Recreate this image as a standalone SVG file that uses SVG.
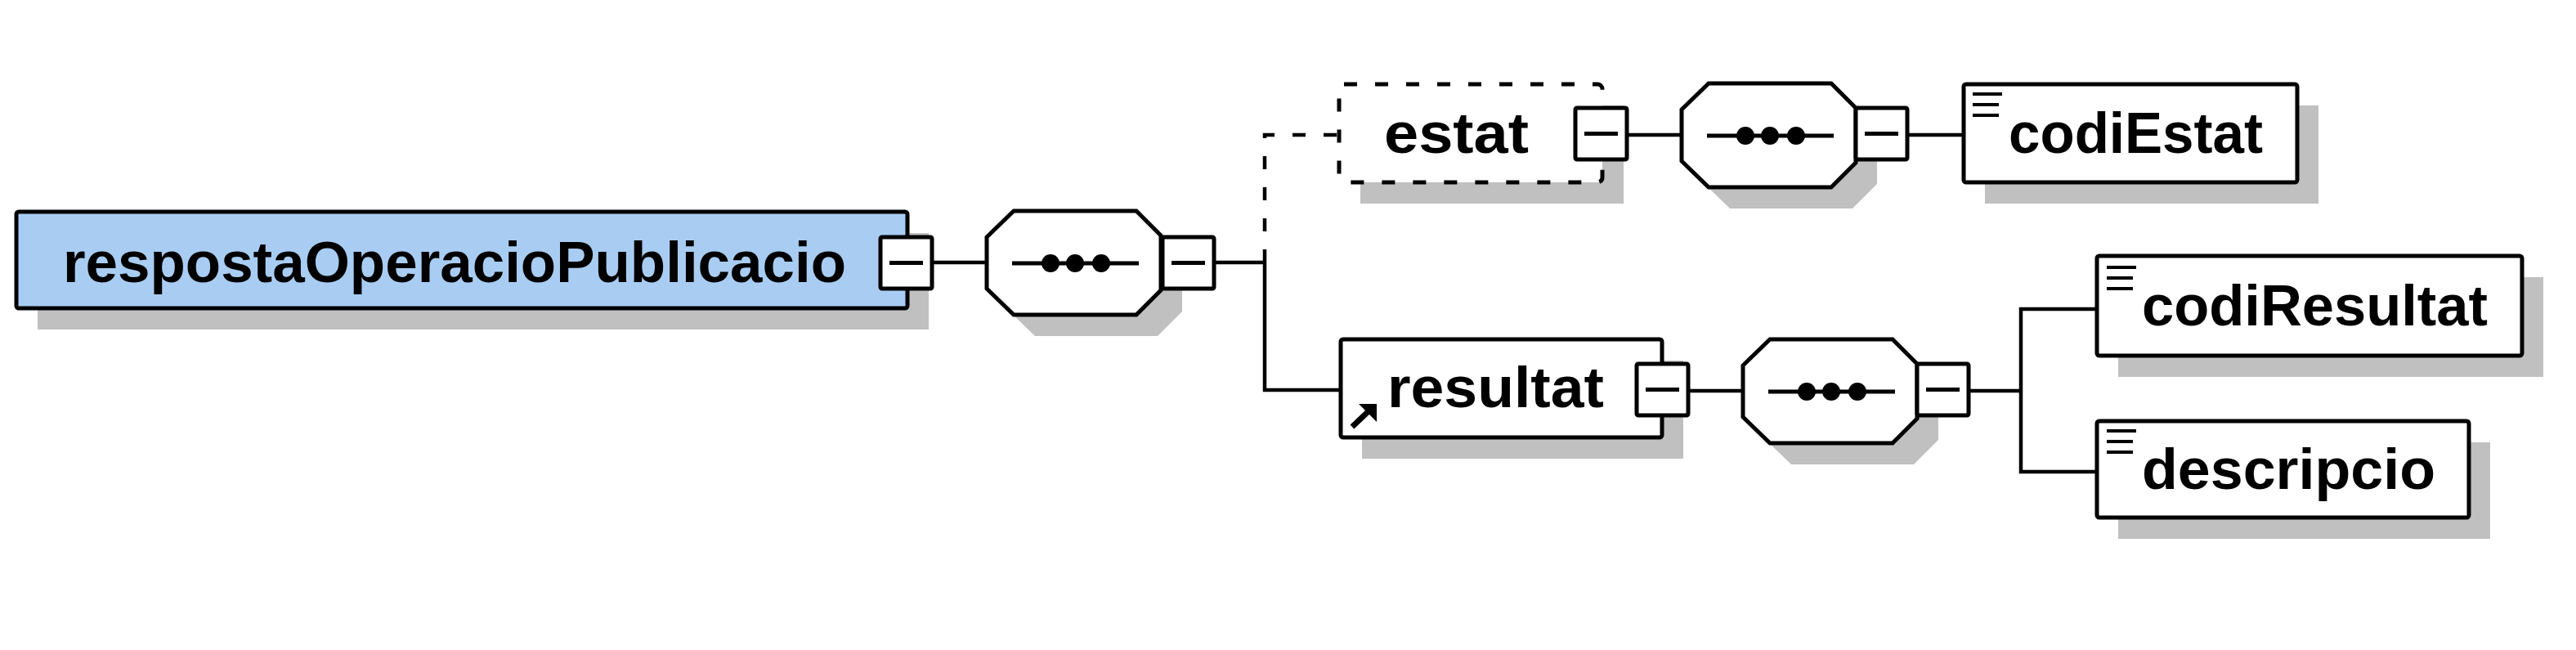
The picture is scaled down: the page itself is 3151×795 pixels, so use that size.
<svg xmlns="http://www.w3.org/2000/svg" xmlns:xlink="http://www.w3.org/1999/xlink" width="3151" height="795" viewBox="0 0 3151 795">
<style>
.box{fill:#fff;stroke:#000;stroke-width:5}
.root{fill:#a9cdf2}
.dashed{stroke-dasharray:16 22}
.shadow{fill:#c0c0c0;stroke:none}
.lbl{font-family:"Liberation Sans",Arial,sans-serif;font-weight:bold;font-size:71px;fill:#000}
.conn{stroke:#000;stroke-width:4.5;fill:none}
.icon{stroke:#000;stroke-width:4;fill:none}
</style>
<defs>
<g id="toggle">
<rect x="0" y="0" width="63" height="63" fill="#fff" stroke="#000" stroke-width="5" rx="2"/>
<line x1="11" y1="31.5" x2="52" y2="31.5" stroke="#000" stroke-width="5"/>
</g>
<path id="octShape" d="M0,32 L33,0 L183,0 L213,30 L213,97 L183,127 L33,127 L0,95 Z"/>
<g id="seq">
<use xlink:href="#octShape" x="26" y="26" class="shadow"/>
<use xlink:href="#octShape" fill="#fff" stroke="#000" stroke-width="5"/>
<line x1="31" y1="64" x2="186" y2="64" stroke="#000" stroke-width="5"/>
<circle cx="78" cy="64" r="11" fill="#000"/>
<circle cx="108" cy="64" r="11" fill="#000"/>
<circle cx="140" cy="64" r="11" fill="#000"/>
</g>
<g id="simpleIcon">
<line x1="0" y1="0" x2="36" y2="0" class="icon"/>
<line x1="0" y1="13" x2="32" y2="13" class="icon"/>
<line x1="0" y1="26" x2="32" y2="26" class="icon"/>
</g>
</defs>
<rect x="0" y="0" width="3151" height="795" fill="#fff"/>

<g id="connectors">
<path class="conn" d="M1140,321 H1207"/>
<path class="conn" d="M1485,321 H1547"/>
<path class="conn" d="M1547,321 V477 H1640"/>
<path class="conn dashed" d="M1547,321 V165 H1638"/>
<path class="conn" d="M1992,165 H2057"/>
<path class="conn" d="M2335,165 H2402"/>
<path class="conn" d="M2067,478 H2132"/>
<path class="conn" d="M2410,478 H2472"/>
<path class="conn" d="M2565,378 H2472 V577 H2565"/>
</g>

<g id="node-respostaOperacioPublicacio">
<rect class="shadow" x="46" y="285" width="1090" height="118"/>
<rect class="box root" x="20" y="259" width="1090" height="118" rx="3"/>
<text class="lbl" x="77" y="345" textLength="958" lengthAdjust="spacingAndGlyphs">respostaOperacioPublicacio</text>
<use xlink:href="#toggle" x="1077" y="290"/>
</g>

<g id="node-sequence1">
<use xlink:href="#seq" x="1207" y="258"/>
<use xlink:href="#toggle" x="1422" y="290"/>
</g>

<g id="node-estat">
<rect class="shadow" x="1664" y="129" width="322" height="120"/>
<rect class="box dashed" x="1638" y="103" width="322" height="120" rx="6"/>
<text class="lbl" x="1693" y="187" textLength="177" lengthAdjust="spacingAndGlyphs">estat</text>
<use xlink:href="#toggle" x="1927" y="132"/>
</g>

<g id="node-sequence2">
<use xlink:href="#seq" x="2057" y="102"/>
<use xlink:href="#toggle" x="2270" y="132"/>
</g>

<g id="node-codiEstat">
<rect class="shadow" x="2428" y="129" width="408" height="120"/>
<rect class="box" x="2402" y="103" width="408" height="120" rx="3"/>
<use xlink:href="#simpleIcon" x="2413" y="115"/>
<text class="lbl" x="2457" y="187" textLength="311" lengthAdjust="spacingAndGlyphs">codiEstat</text>
</g>

<g id="node-resultat">
<rect class="shadow" x="1666" y="441" width="393" height="120"/>
<rect class="box" x="1640" y="415" width="393" height="120" rx="3"/>
<line x1="1654" y1="522" x2="1674" y2="503" stroke="#000" stroke-width="7"/>
<polygon points="1662,494 1684,494 1684,516" fill="#000"/>
<text class="lbl" x="1697" y="498" textLength="265" lengthAdjust="spacingAndGlyphs">resultat</text>
<use xlink:href="#toggle" x="2002" y="445"/>
</g>

<g id="node-sequence3">
<use xlink:href="#seq" x="2132" y="415"/>
<use xlink:href="#toggle" x="2345" y="445"/>
</g>

<g id="node-codiResultat">
<rect class="shadow" x="2591" y="339" width="520" height="122"/>
<rect class="box" x="2565" y="313" width="520" height="122" rx="3"/>
<use xlink:href="#simpleIcon" x="2577" y="327"/>
<text class="lbl" x="2620" y="398" textLength="423" lengthAdjust="spacingAndGlyphs">codiResultat</text>
</g>

<g id="node-descripcio">
<rect class="shadow" x="2591" y="541" width="455" height="118"/>
<rect class="box" x="2565" y="515" width="455" height="118" rx="3"/>
<use xlink:href="#simpleIcon" x="2577" y="527"/>
<text class="lbl" x="2620" y="598" textLength="359" lengthAdjust="spacingAndGlyphs">descripcio</text>
</g>
</svg>
